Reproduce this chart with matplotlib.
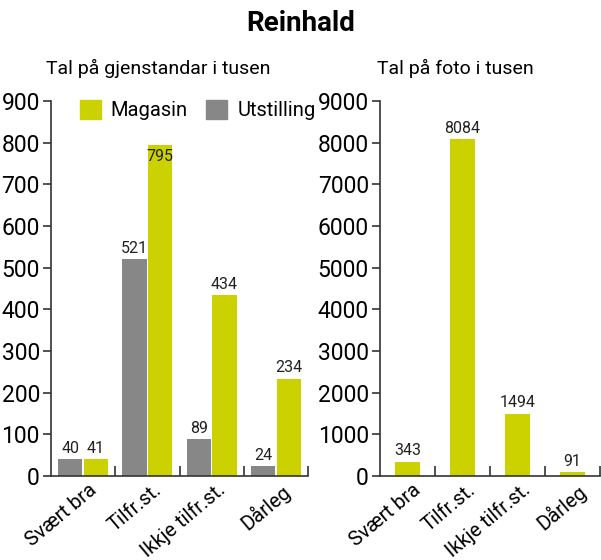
import numpy as np
import matplotlib
matplotlib.use("Agg")
from matplotlib import pyplot as plt
from matplotlib.patches import Patch

plt.rcParams['font.family'] = ['Roboto', 'DejaVu Sans']

categories = ["Svært bra", "Tilfr.st.", "Ikkje tilfr.st.", "Dårleg"]
utstilling = [40, 521, 89, 24]
magasin = [41, 795, 434, 234]
foto = [343, 8084, 1494, 91]

YELLOW = "#ccd200"
GRAY = "#878787"
AXC = "#333333"

fig = plt.figure(figsize=(6.01, 5.6), dpi=100)
fig.text(0.5, 0.958, "Reinhald", ha="center", va="center", fontsize=20, fontweight="bold")

def style(ax, ymax, step):
    ax.set_xlim(-0.5, 3.5)
    ax.set_ylim(0, ymax)
    ax.set_yticks(np.arange(0, ymax + 1, step))
    for s in ["top", "right"]:
        ax.spines[s].set_visible(False)
    for s in ["left", "bottom"]:
        ax.spines[s].set_color(AXC)
        ax.spines[s].set_linewidth(1.2)
    ax.tick_params(axis="y", direction="out", length=6, width=1.2, color=AXC,
                   labelsize=16.5, pad=2)
    x = np.arange(len(categories))
    ax.set_xticks(x + 0.08)
    ax.set_xticklabels(categories, rotation=40, ha="right", va="top",
                       rotation_mode="anchor", fontsize=14.5)
    ax.tick_params(axis="x", which="major", length=0, pad=3)
    ax.set_xticks(x + 0.5, minor=True)
    ax.tick_params(axis="x", which="minor", direction="in", length=7, width=1.2, color=AXC)

# left: gjenstandar
ax1 = fig.add_axes([0.0849, 0.15, 0.4276, 0.6696])
x = np.arange(len(categories))
w1 = 0.375
ax1.bar(x - 0.2, utstilling, w1, color=GRAY)
ax1.bar(x + 0.2, magasin, w1, color=YELLOW)
style(ax1, 900, 100)
for i, v in enumerate(utstilling):
    ax1.text(x[i] - 0.2, v + 8, str(v), ha="center", va="bottom", fontsize=11.5, color="#222222")
for i, v in enumerate(magasin):
    if v > 700:
        ax1.text(x[i] + 0.2, v - 10, str(v), ha="center", va="top", fontsize=11.5, color="#222222")
    else:
        ax1.text(x[i] + 0.2, v + 8, str(v), ha="center", va="bottom", fontsize=11.5, color="#222222")
fig.text(0.263, 0.878, "Tal på gjenstandar i tusen", ha="center", va="center", fontsize=14)
ax1.legend(handles=[Patch(color=YELLOW, label="Magasin"), Patch(color=GRAY, label="Utstilling")],
           loc="upper left", bbox_to_anchor=(0.08, 1.025), ncol=2, frameon=False,
           fontsize=14.5, handlelength=1.05, handleheight=1.1, handletextpad=0.5,
           columnspacing=0.9, borderaxespad=0)

# right: foto
ax2 = fig.add_axes([0.6323, 0.15, 0.366, 0.6696])
w2 = 0.45
ax2.bar(x, foto, w2, color=YELLOW)
style(ax2, 9000, 1000)
for i, v in enumerate(foto):
    ax2.text(x[i], v + 80, str(v), ha="center", va="bottom", fontsize=11.5, color="#222222")
fig.text(0.757, 0.878, "Tal på foto i tusen", ha="center", va="center", fontsize=14)

fig.savefig("out.png", dpi=100)
